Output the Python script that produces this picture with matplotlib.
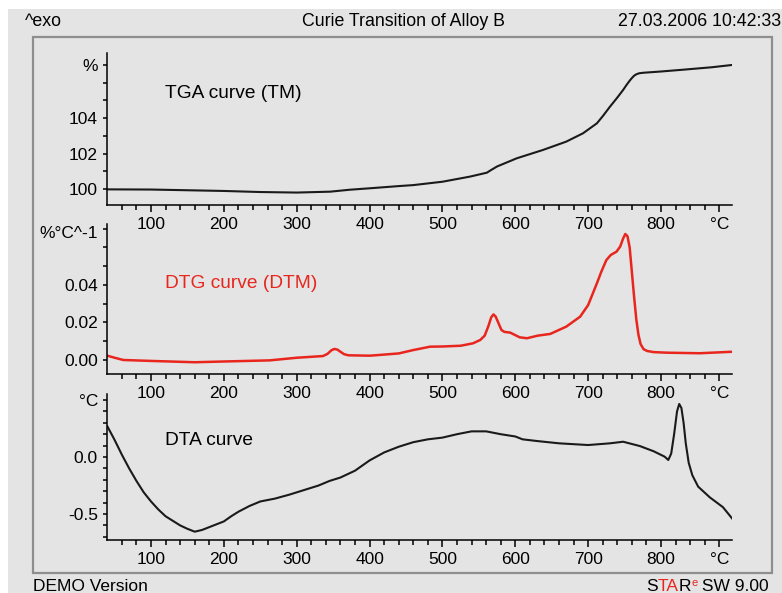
import matplotlib
matplotlib.use("Agg")
import matplotlib.pyplot as plt
from matplotlib.patches import Rectangle
from matplotlib.ticker import FixedLocator, FixedFormatter
import matplotlib.transforms as mtransforms

plt.rcParams['font.family'] = ['Liberation Sans', 'DejaVu Sans']

# ---------------- data ----------------
tga_temp = [40, 100, 150, 200, 250, 300, 346, 373, 400, 442, 460, 500, 538, 561,
            566, 575, 602, 638, 670, 693, 712, 720, 730, 740, 748, 753, 757, 760,
            763, 766, 770, 776, 800, 830, 870, 898]
tga_mass = [99.98, 99.97, 99.93, 99.89, 99.83, 99.80, 99.85, 99.96, 100.04, 100.17,
            100.22, 100.41, 100.70, 100.92, 101.05, 101.27, 101.73, 102.20, 102.67,
            103.14, 103.70, 104.10, 104.64, 105.15, 105.58, 105.88, 106.10, 106.25,
            106.38, 106.46, 106.52, 106.55, 106.62, 106.72, 106.86, 106.99]

dtg_temp = [40, 50, 62, 100, 160, 200, 263, 300, 336, 342, 348, 352, 356, 360, 365,
            371, 400, 414, 440, 460, 483, 500, 525, 542, 552, 558, 563, 567, 570,
            573, 577, 581, 585, 593, 606, 616, 631, 648, 670, 689, 700, 712, 718,
            725, 731, 739, 744, 748, 751, 754, 757, 760, 763, 766, 769, 772, 776,
            781, 790, 808, 853, 898]
dtg_rate = [0.0023, 0.0012, 0.0000, -0.0005, -0.0012, -0.0008, -0.0002, 0.0012,
            0.0021, 0.0032, 0.0053, 0.0059, 0.0055, 0.0044, 0.0031, 0.0025, 0.0023,
            0.0027, 0.0035, 0.0053, 0.0071, 0.0072, 0.0076, 0.0089, 0.0107, 0.0130,
            0.0180, 0.0228, 0.0243, 0.0232, 0.0196, 0.0160, 0.0150, 0.0146, 0.0121,
            0.0116, 0.0130, 0.0139, 0.0178, 0.0231, 0.0293, 0.0409, 0.0470, 0.0533,
            0.0560, 0.0578, 0.0605, 0.0648, 0.0672, 0.0660, 0.0600, 0.0470, 0.0340,
            0.0220, 0.0135, 0.0085, 0.0058, 0.0048, 0.0042, 0.0039, 0.0036, 0.0044]

dta_temp = [40, 45, 50, 55, 60, 70, 80, 90, 100, 110, 120, 130, 140, 150, 160, 170,
            180, 190, 200, 210, 220, 235, 250, 270, 290, 310, 330, 345, 360, 380,
            400, 420, 440, 460, 480, 500, 520, 540, 560, 580, 600, 610, 630, 660,
            700, 730, 748, 771, 790, 805, 810, 814, 818, 822, 825, 828, 831, 834,
            838, 843, 851, 867, 885, 899]
dta_signal = [0.27, 0.21, 0.15, 0.085, 0.02, -0.10, -0.21, -0.31, -0.39, -0.46,
              -0.52, -0.56, -0.60, -0.63, -0.655, -0.64, -0.615, -0.59, -0.565,
              -0.52, -0.48, -0.43, -0.39, -0.365, -0.33, -0.29, -0.25, -0.21, -0.18,
              -0.12, -0.03, 0.04, 0.09, 0.13, 0.155, 0.17, 0.20, 0.225, 0.225, 0.20,
              0.18, 0.155, 0.14, 0.12, 0.105, 0.12, 0.134, 0.096, 0.05, 0.003,
              -0.026, 0.03, 0.20, 0.40, 0.465, 0.43, 0.30, 0.12, -0.05, -0.16,
              -0.26, -0.354, -0.44, -0.55]

x_major = [100, 200, 300, 400, 500, 600, 700, 800, 880]
x_major_labels = ['100', '200', '300', '400', '500', '600', '700', '800', '°C']
x_minor = [t for t in range(60, 880, 20) if t % 100 != 0]

tga_ticks = [100, 102, 104, 107]
tga_labels = ['100', '102', '104', '%']
tga_minor = [101, 103, 105, 106]

dtg_ticks = [0.0, 0.02, 0.04]
dtg_labels = ['0.00', '0.02', '0.04']
dtg_minor = [0.01, 0.03, 0.05, 0.06, 0.07]

dta_ticks = [-0.5, 0.0, 0.5]
dta_labels = ['-0.5', '0.0', '°C']
dta_minor = [-0.7, -0.6, -0.4, -0.3, -0.2, -0.1, 0.1, 0.2, 0.3, 0.4]

# ---------------- layout ----------------
W, H = 782, 593
BG = '#e3e4e3'
FRAME = '#8e8e8e'
RED = '#e8261e'
AX_L, AX_R = 107.3, 732.4


def fx(x):
    return x / W


def fy(y):
    return 1 - y / H


fig = plt.figure(figsize=(W / 100, H / 100), dpi=100, facecolor='white')
fig.patches.append(Rectangle((fx(8), 0), 1 - fx(8), fy(9), transform=fig.transFigure,
                             facecolor=BG, edgecolor='none', zorder=-10))
fig.patches.append(Rectangle((fx(33), fy(573)), fx(772) - fx(33), fy(37) - fy(573),
                             transform=fig.transFigure, fill=False,
                             edgecolor=FRAME, linewidth=1.6, zorder=-5))


def make_axes(top, bottom, ylim, yticks, ylabels, yminor):
    ax = fig.add_axes([fx(AX_L), fy(bottom), fx(AX_R) - fx(AX_L), fy(top) - fy(bottom)])
    ax.set_facecolor('none')
    ax.set_xlim(40, 898)
    ax.set_ylim(*ylim)
    for s in ('top', 'right'):
        ax.spines[s].set_visible(False)
    for s in ('left', 'bottom'):
        ax.spines[s].set_linewidth(1.1)
    ax.xaxis.set_major_locator(FixedLocator(x_major))
    ax.xaxis.set_major_formatter(FixedFormatter(x_major_labels))
    ax.xaxis.set_minor_locator(FixedLocator(x_minor))
    ax.yaxis.set_major_locator(FixedLocator(yticks))
    ax.yaxis.set_major_formatter(FixedFormatter(ylabels))
    ax.yaxis.set_minor_locator(FixedLocator(yminor))
    ax.tick_params(axis='x', which='major', direction='out', length=5.0, width=1.1,
                   pad=4, labelsize=12.5)
    ax.tick_params(axis='x', which='minor', direction='out', length=3.6, width=1.1)
    ax.tick_params(axis='y', which='major', direction='out', length=3.2, width=1.1,
                   pad=3.5, labelsize=12.5)
    ax.tick_params(axis='y', which='minor', direction='out', length=3.2, width=1.1)
    return ax


ax1 = make_axes(53, 205, (99.099, 107.662), tga_ticks, tga_labels, tga_minor)
ax2 = make_axes(224, 374, (-0.00747, 0.07253), dtg_ticks, dtg_labels, dtg_minor)
ax3 = make_axes(394, 540, (-0.728, 0.5526), dta_ticks, dta_labels, dta_minor)

line_kw = dict(solid_joinstyle='round', solid_capstyle='round')
ax1.plot(tga_temp, tga_mass, color='#1a1a1a', lw=1.5, **line_kw)
ax2.plot(dtg_temp, dtg_rate, color=RED, lw=1.8, **line_kw)
ax3.plot(dta_temp, dta_signal, color='#1a1a1a', lw=1.5, **line_kw)

# unit label at the top of the DTG axis
trans = mtransforms.blended_transform_factory(ax2.transAxes, ax2.transData)
ax2.text(-0.0145, 0.0677, '%°C^-1', transform=trans, ha='right', va='center',
         fontsize=12.5)

# curve names
fig.text(fx(165), fy(98), 'TGA curve (TM)', fontsize=13.8, va='baseline')
fig.text(fx(165), fy(288), 'DTG curve (DTM)', fontsize=13.8, va='baseline', color=RED)
fig.text(fx(165), fy(445), 'DTA curve', fontsize=13.8, va='baseline')

# header
fig.text(fx(25), fy(26), '^exo', fontsize=12.8, va='baseline')
fig.text(fx(403), fy(26), 'Curie Transition of Alloy B', fontsize=12.8,
         va='baseline', ha='center')
fig.text(fx(781), fy(26), '27.03.2006 10:42:33', fontsize=12.8, va='baseline',
         ha='right')

# footer
fig.text(fx(33), fy(591), 'DEMO Version', fontsize=12.5, va='baseline')

runs = [('S', 'black', 12.5, 0), ('TA', RED, 12.5, 0), ('R', 'black', 12.5, 0),
        ('e', RED, 8, 5), (' SW 9.00', 'black', 12.5, 0)]
renderer = fig.canvas.get_renderer()
objs = []
widths = []
for txt, col, size, dy in runs:
    t = fig.text(0, fy(591 - dy), txt, fontsize=size, color=col, va='baseline')
    objs.append(t)
    widths.append(t.get_window_extent(renderer).width)
x = 769 - sum(widths)
for t, w in zip(objs, widths):
    t.set_x(fx(x))
    x += w

fig.savefig('out.png', dpi=100, facecolor='white')
